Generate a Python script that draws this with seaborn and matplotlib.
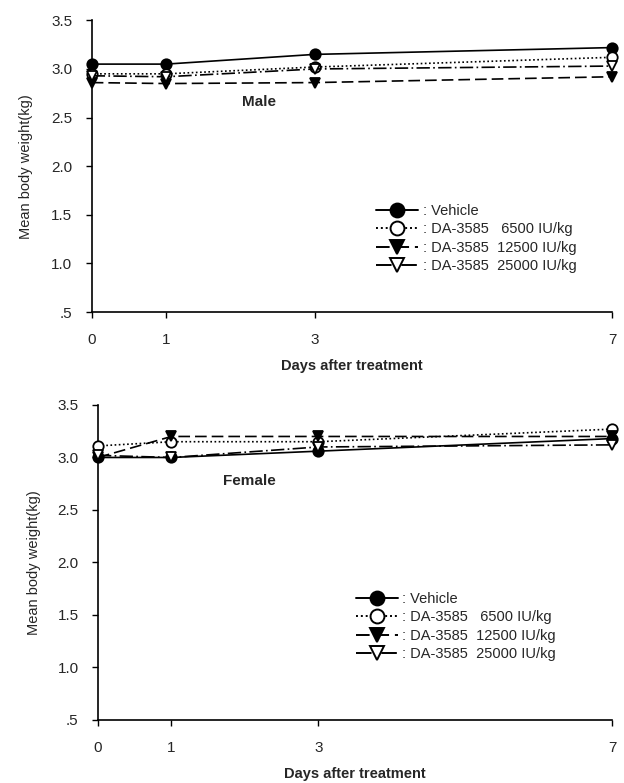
import matplotlib
matplotlib.use("Agg")
import matplotlib.pyplot as plt
import seaborn as sns
import pandas as pd
from matplotlib.lines import Line2D

sns.set_theme(style="ticks")
plt.rcParams['font.family'] = ['Liberation Sans', 'DejaVu Sans']

days = [0, 1, 3, 7]
groups = ["Vehicle", "DA-3585   6500 IU/kg", "DA-3585  12500 IU/kg", "DA-3585  25000 IU/kg"]

male_vehicle = [3.05, 3.05, 3.15, 3.22]
male_6500 = [2.95, 2.95, 3.02, 3.12]
male_12500 = [2.86, 2.85, 2.86, 2.92]
male_25000 = [2.93, 2.92, 3.00, 3.03]

female_vehicle = [3.00, 3.00, 3.06, 3.18]
female_6500 = [3.11, 3.15, 3.15, 3.27]
female_12500 = [3.00, 3.20, 3.20, 3.20]
female_25000 = [3.02, 3.00, 3.10, 3.12]

yticks = [0.5, 1.0, 1.5, 2.0, 2.5, 3.0, 3.5]
ytick_labels = [".5", "1.0", "1.5", "2.0", "2.5", "3.0", "3.5"]

styles = [
    dict(marker="o", linestyle="-", mfc="black"),
    dict(marker="o", linestyle=(0, (1, 1.5)), mfc="white"),
    dict(marker="v", linestyle=(0, (7, 3)), mfc="black"),
    dict(marker="v", linestyle=(0, (8, 2, 1, 2)), mfc="white"),
]

fig = plt.figure(figsize=(6.24, 7.83), dpi=100)
ax1 = fig.add_axes([0.147, 0.6015, 0.834, 0.3725])
ax2 = fig.add_axes([0.157, 0.0805, 0.824, 0.4023])


def draw(ax, series, label, label_xy, leg_anchor, ylabelpad):
    for vals, st in zip(series, styles):
        df = pd.DataFrame({"day": days, "w": vals})
        sns.lineplot(data=df, x="day", y="w", ax=ax, color="black", lw=1.2,
                     marker=st["marker"], linestyle=st["linestyle"],
                     markerfacecolor=st["mfc"], markeredgecolor="black",
                     markeredgewidth=1.3, markersize=7.5, clip_on=False,
                     zorder=3)
    ax.set_xlim(0, 7)
    ax.set_ylim(0.5, 3.5)
    ax.set_xticks(days)
    ax.set_yticks(yticks)
    ax.set_yticklabels(ytick_labels)
    ax.tick_params(labelsize=11, length=4, width=1, color="black")
    ax.tick_params(axis="y", pad=10)
    ax.tick_params(axis="x", pad=11)
    ax.set_xlabel("Days after treatment", fontsize=10.5, fontweight="bold", labelpad=9)
    ax.set_ylabel("Mean body weight(kg)", fontsize=10.5, labelpad=ylabelpad)
    sns.despine(ax=ax)
    for s in ("left", "bottom"):
        ax.spines[s].set_linewidth(1.2)
        ax.spines[s].set_color("black")
    ax.text(label_xy[0], label_xy[1], label, fontsize=11, fontweight="bold")
    handles = [Line2D([], [], color="black", lw=1.4, marker=st["marker"],
                      linestyle=st["linestyle"], markerfacecolor=st["mfc"],
                      markeredgecolor="black", markeredgewidth=1.4, markersize=10)
               for st in styles]
    ax.legend(handles, [": " + g for g in groups], loc="upper left",
              bbox_to_anchor=leg_anchor, frameon=False, fontsize=10.5,
              handlelength=2.9, handletextpad=0.3, labelspacing=0.3,
              borderaxespad=0)


draw(ax1, [male_vehicle, male_6500, male_12500, male_25000], "Male", (2.02, 2.62), (0.535, 0.39), 13)
draw(ax2, [female_vehicle, female_6500, female_12500, female_25000], "Female", (1.7, 2.74), (0.49, 0.425), 12)

fig.savefig("out.png", dpi=100)
